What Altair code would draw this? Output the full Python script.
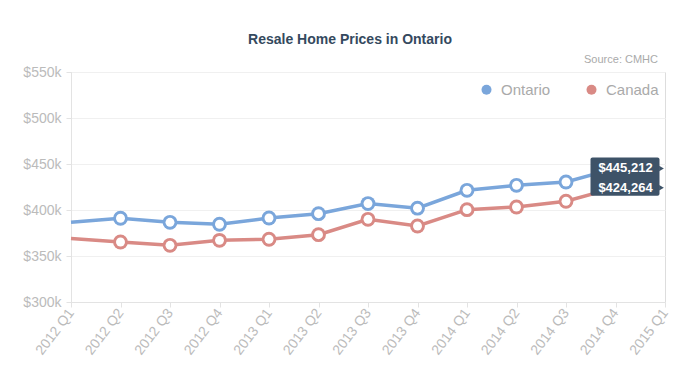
import altair as alt
import pandas as pd

quarters = ["2012 Q1", "2012 Q2", "2012 Q3", "2012 Q4",
            "2013 Q1", "2013 Q2", "2013 Q3", "2013 Q4",
            "2014 Q1", "2014 Q2", "2014 Q3", "2014 Q4", "2015 Q1"]
data_quarters = quarters[:12]
ontario = [386600, 391000, 386600, 384500, 391300, 396000,
           407000, 402000, 421400, 426800, 430400, 445212]
canada = [368900, 365200, 361600, 367000, 368200, 373200,
          389900, 382600, 400400, 403300, 409500, 424264]
series_names = ["Ontario", "Canada"]
series_colors = ["#7aa6db", "#d98a85"]
title_text = "Resale Home Prices in Ontario"
source_text = "Source: CMHC"
y_ticks = [300000, 350000, 400000, 450000, 500000, 550000]

FONT = "Liberation Sans"

rows = []
for q, v in zip(data_quarters, ontario):
    rows.append({"quarter": q, "series": "Ontario", "value": v})
for q, v in zip(data_quarters, canada):
    rows.append({"quarter": q, "series": "Canada", "value": v})
df = pd.DataFrame(rows)

tip_q = data_quarters[-1]
tip_df = pd.DataFrame([{"quarter": tip_q, "on": ontario[-1], "ca": canada[-1]}])

x_enc = alt.X(
    "quarter:O",
    scale=alt.Scale(domain=quarters, type="point", padding=0),
    axis=alt.Axis(
        title=None, labelAngle=-53, labelAlign="right", labelBaseline="middle",
        labelColor="#bbbbbb", labelFontSize=14, labelFont=FONT, labelPadding=3,
        tickColor="#e3e3e3", tickSize=5, domainColor="#e3e3e3", grid=False,
    ),
)
y_enc = alt.Y(
    "value:Q",
    scale=alt.Scale(domain=[300000, 550000], nice=False, zero=False),
    axis=alt.Axis(
        title=None, values=y_ticks,
        labelExpr="'$' + format(datum.value / 1000, 'd') + 'k'",
        labelColor="#bbbbbb", labelFontSize=14, labelFont=FONT, labelPadding=5,
        tickColor="#e3e3e3", tickSize=5, domainColor="#e3e3e3",
        gridColor="#f0f0f0",
    ),
)
color_scale = alt.Scale(domain=series_names, range=series_colors)
legend = alt.Legend(
    title=None, orient="none", direction="horizontal",
    legendX=408, legendY=10, symbolType="circle", symbolSize=100,
    symbolStrokeWidth=0,
    labelFontSize=15, labelColor="#aaaaaa",
    labelFont=FONT, labelOffset=7, columnPadding=33,
)
color_enc = alt.Color("series:N", scale=color_scale, legend=legend)

base = alt.Chart(df)

lines = base.mark_line(strokeWidth=3.5).encode(
    x=x_enc, y=y_enc, color=color_enc,
)

markers = base.transform_filter(alt.datum.quarter != quarters[0])

outer = markers.mark_point(filled=True, opacity=1, size=220, shape="circle").encode(
    x="quarter:O", y="value:Q", color=color_enc,
)
inner = markers.mark_point(filled=True, opacity=1, size=80, shape="circle",
                           color="white").encode(x="quarter:O", y="value:Q")

tip_box = alt.Chart(tip_df).mark_rect(
    color="#3e5368", cornerRadius=2, xOffset=-25, x2Offset=44,
    yOffset=-11, y2Offset=8,
).encode(x="quarter:O", x2="quarter", y="on:Q", y2="ca:Q")

tip_points = base.transform_filter(alt.datum.quarter == tip_q)

tip_arrows = tip_points.mark_point(
    shape="triangle-right", filled=True, opacity=1, color="#3e5368",
    size=30, xOffset=46,
).encode(x="quarter:O", y="value:Q")

tip_text = tip_points.mark_text(
    color="white", fontSize=13, fontWeight="bold", font=FONT,
    align="center", baseline="middle", dx=10,
).encode(x="quarter:O", y="value:Q", text=alt.Text("value:Q", format="$,.0f"))

source = alt.Chart(pd.DataFrame({"t": [source_text]})).mark_text(
    align="right", baseline="alphabetic", fontSize=11, color="#aaaaaa", font=FONT,
).encode(text="t:N", x=alt.value(587), y=alt.value(-9))

title = alt.Chart(pd.DataFrame({"t": [title_text]})).mark_text(
    align="center", baseline="alphabetic", fontSize=14, fontWeight="bold",
    color="#34495e", font=FONT,
).encode(text="t:N", x=alt.value(279), y=alt.value(-28))

chart = alt.layer(
    lines, outer, inner, tip_box, tip_arrows, tip_text, source, title
).properties(
    width=594, height=230,
    padding={"left": 63, "top": 64, "right": 27, "bottom": 78},
    autosize=alt.AutoSizeParams(type="none"),
).configure_view(stroke="#ececec").configure(background="white")

chart.save("out.html", embed_options={"renderer": "svg", "actions": False})
